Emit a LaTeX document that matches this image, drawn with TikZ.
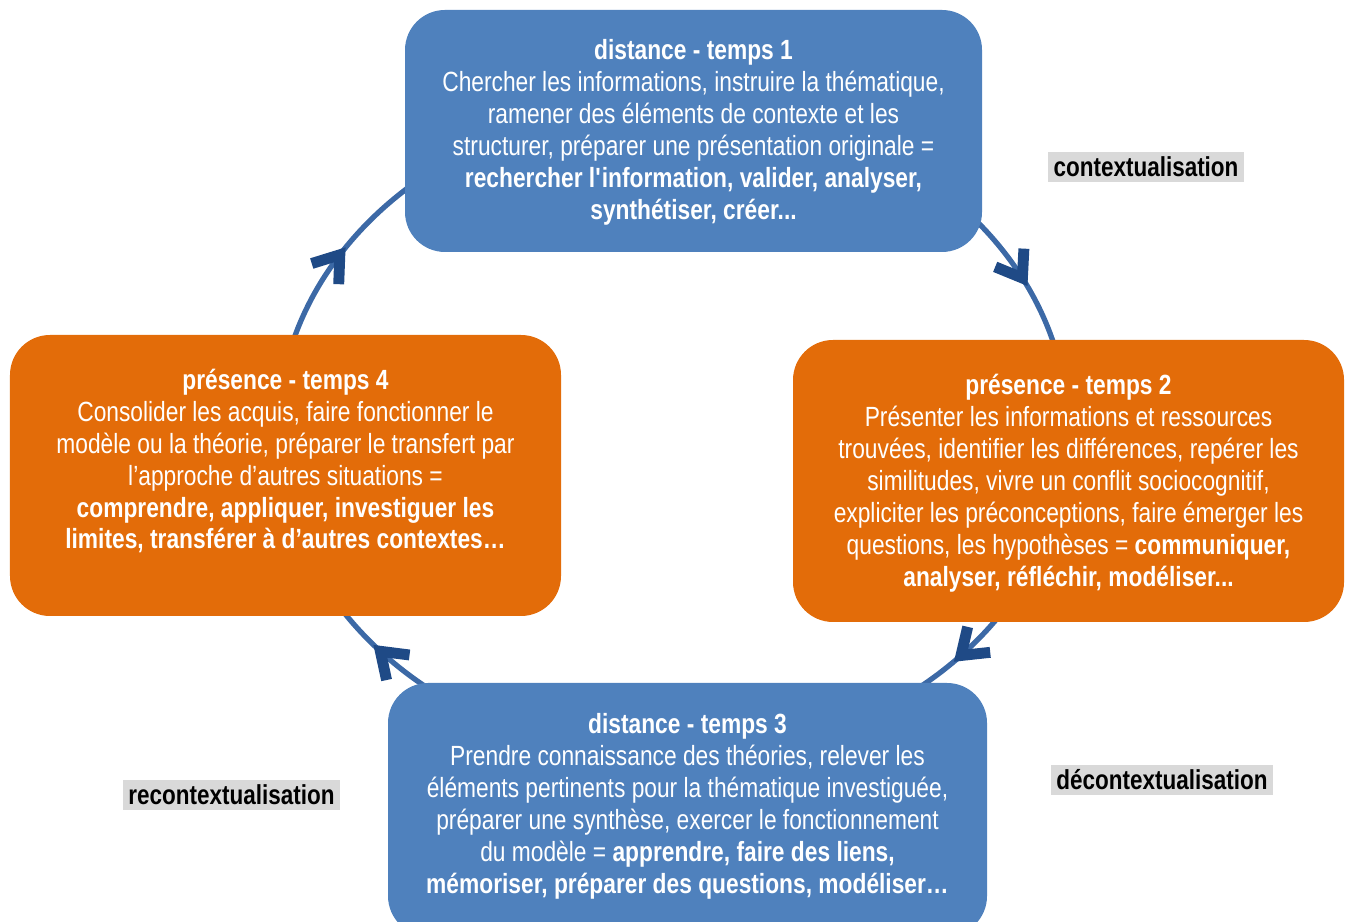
\documentclass[tikz,border=0pt]{standalone}
\usepackage{fontspec}
\setmainfont[FakeStretch=0.82]{Liberation Sans}
\usetikzlibrary{decorations.markings}

\definecolor{boxblue}{HTML}{4F81BD}
\definecolor{boxorange}{HTML}{E36C09}
\definecolor{arcblue}{HTML}{3C69A6}
\definecolor{chevblue}{HTML}{1F4A86}
\definecolor{tagbg}{HTML}{D9D9D9}

\tikzset{
	cyclebox/.style={rounded corners=0.4cm, inner sep=0pt},
	boxtext/.style={text=white, align=center, inner sep=0pt, font=\fontsize{7.9}{9.1}\selectfont},
	tag/.style={fill=tagbg, inner xsep=1.5pt, inner ysep=0pt, minimum height=0.3cm, font=\fontsize{7.8}{9}\selectfont\bfseries},
	cyclearc/.style={arcblue, line width=1.5pt, postaction={decorate},
		decoration={markings, mark=at position 0.5 with {\draw[chevblue, line width=3.1pt, line join=miter, miter limit=10] (-0.24,0.17) -- (0,0) -- (-0.24,-0.17);}}}
}

\begin{document}
\begin{tikzpicture}
	\useasboundingbox (0,0) rectangle (13.46,9.21);
	\coordinate (ctr) at (6.73,4.90);

	% the cycle, clockwise
	\draw[cyclearc] (ctr) ++(42:3.95 and 3.28) arc[start angle=42, end angle=13, x radius=3.95, y radius=3.28];
	\draw[cyclearc] (ctr) ++(-32:3.95 and 3.28) arc[start angle=-32, end angle=-54, x radius=3.95, y radius=3.28];
	\draw[cyclearc] (ctr) ++(233:3.95 and 3.28) arc[start angle=233, end angle=211, x radius=3.95, y radius=3.28];
	\draw[cyclearc] (ctr) ++(166:3.95 and 3.28) arc[start angle=166, end angle=130, x radius=3.95, y radius=3.28];

	\node[cyclebox, fill=boxblue, minimum width=5.77cm, minimum height=2.42cm] (temps1) at (6.935, 7.90) {};
	\node[cyclebox, fill=boxorange, minimum width=5.51cm, minimum height=2.82cm] (temps2) at (10.685, 4.40) {};
	\node[cyclebox, fill=boxblue, minimum width=5.99cm, minimum height=2.53cm] (temps3) at (6.875, 1.115) {};
	\node[cyclebox, fill=boxorange, minimum width=5.51cm, minimum height=2.81cm] (temps4) at (2.855, 4.455) {};

	\node[boxtext] (text1) at (6.935, 7.89) {\textbf{distance - temps 1}\\
		Chercher les informations, instruire la thématique,\\
		ramener des éléments de contexte et les\\
		structurer, préparer une présentation originale =\\
		\textbf{rechercher l\textquotesingle information, valider, analyser,}\\
		\textbf{synthétiser, créer...}};

	\node[boxtext] (text2) at (10.685, 4.38) {\textbf{présence - temps 2}\\
		Présenter les informations et ressources\\
		trouvées, identifier les différences, repérer les\\
		similitudes, vivre un conflit sociocognitif,\\
		expliciter les préconceptions, faire émerger les\\
		questions, les hypothèses = \textbf{communiquer,}\\
		\textbf{analyser, réfléchir, modéliser...}};

	\node[boxtext] (text3) at (6.875, 1.15) {\textbf{distance - temps 3}\\
		Prendre connaissance des théories, relever les\\
		éléments pertinents pour la thématique investiguée,\\
		préparer une synthèse, exercer le fonctionnement\\
		du modèle = \textbf{apprendre, faire des liens,}\\
		\textbf{mémoriser, préparer des questions, modéliser…}};

	\node[boxtext] (text4) at (2.855, 4.60) {\textbf{présence - temps 4}\\
		Consolider les acquis, faire fonctionner le\\
		modèle ou la théorie, préparer le transfert par\\
		l’approche d’autres situations =\\
		\textbf{comprendre, appliquer, investiguer les}\\
		\textbf{limites, transférer à d’autres contextes…}};

	\node[tag] (ctx) at (11.46, 7.54) {contextualisation};
	\node[tag] (dectx) at (11.62, 1.41) {décontextualisation};
	\node[tag] (rectx) at (2.315, 1.26) {recontextualisation};
\end{tikzpicture}
\end{document}
